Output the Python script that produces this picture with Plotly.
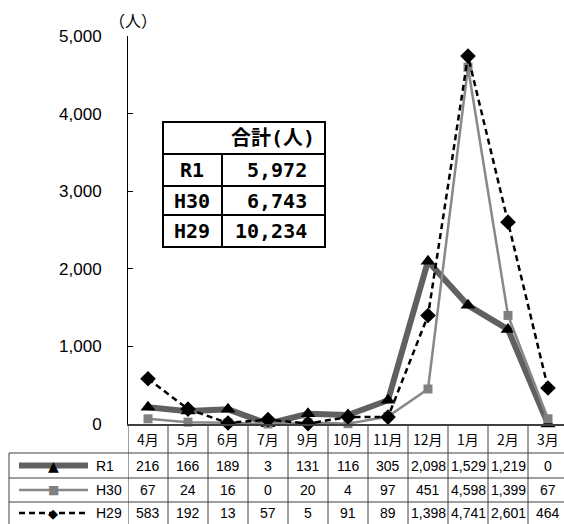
import plotly.graph_objects as go

# 月別データ (8月は無し)
months = ['4月', '5月', '6月', '7月', '9月', '10月', '11月', '12月', '1月', '2月', '3月']
r1 = [216, 166, 189, 3, 131, 116, 305, 2098, 1529, 1219, 0]
h30 = [67, 24, 16, 0, 20, 4, 97, 451, 4598, 1399, 67]
h29 = [583, 192, 13, 57, 5, 91, 89, 1398, 4741, 2601, 464]

series_names = ['R1', 'H30', 'H29']
totals = [5972, 6743, 10234]
y_ticks = [0, 1000, 2000, 3000, 4000, 5000]

# ページとプロット領域 (ピクセル)
W, H = 564, 524
L, T, BOT = 128, 36, 424
PW, PH = W - L, BOT - T
COL = 40


def px(xp):
    return (xp - L) / PW


def py(yp):
    return (BOT - yp) / PH


styles = {
    'R1': dict(line=dict(color='#606060', width=6),
               marker=dict(symbol='triangle-up', size=13, color='#000000'),
               glyph='▲', gcolor='#000000', gsize=14),
    'H30': dict(line=dict(color='#888888', width=2.5),
                marker=dict(symbol='square', size=9, color='#808080'),
                glyph='■', gcolor='#808080', gsize=12),
    'H29': dict(line=dict(color='#000000', width=2.5, dash='6px,4px'),
                marker=dict(symbol='diamond', size=12, color='#000000'),
                glyph='◆', gcolor='#000000', gsize=13),
}

fig = go.Figure()

for name, vals in zip(series_names, [r1, h30, h29]):
    st = styles[name]
    fig.add_trace(go.Scatter(
        x=list(range(len(months))), y=vals, name=name,
        mode='lines+markers',
        line=st['line'], marker=st['marker'],
        cliponaxis=False,
        hoverinfo='skip'
    ))

shapes = []
annotations = []
grid = dict(color='#404040', width=1)


def label(x, y, text, font, xref='paper', xanchor='center'):
    annotations.append(dict(x=x, y=y, xref=xref, yref='paper', text=text,
                            showarrow=False, xanchor=xanchor, yanchor='middle',
                            font=font))


# 下のデータ表
row_lines = [453, 478, 502]
row_centers = [465.5, 490, 513]
for yl in row_lines:
    shapes.append(dict(type='line', xref='paper', yref='paper',
                       x0=px(9), x1=1, y0=py(yl), y1=py(yl), line=grid))
shapes.append(dict(type='line', xref='paper', yref='paper',
                   x0=px(9), x1=px(9), y0=py(453), y1=py(H), line=grid))
for i in range(len(months)):
    shapes.append(dict(type='line', xref='x', yref='paper',
                       x0=i - 0.5, x1=i - 0.5, y0=py(BOT), y1=py(H),
                       line=grid))

cell_font = dict(size=14, color='#000000', family='Liberation Sans')
for i, m in enumerate(months):
    label(i, py(438.5), m,
          dict(size=14, color='#000000', family='Noto Sans CJK JP'), xref='x')

for name, vals, yc in zip(series_names, [r1, h30, h29], row_centers):
    st = styles[name]
    shapes.append(dict(type='line', xref='paper', yref='paper',
                       x0=px(19), x1=px(88), y0=py(yc), y1=py(yc),
                       line=st['line']))
    label(px(53), py(yc), st['glyph'],
          dict(size=st['gsize'], color=st['gcolor'], family='DejaVu Sans'))
    label(px(94), py(yc), name, cell_font, xanchor='left')
    for i, v in enumerate(vals):
        label(i, py(yc), f'{v:,}', cell_font, xref='x')

# 合計表
tbl_font = dict(size=20, color='#000000', family='DejaVu Sans Mono, Noto Sans CJK JP')
shapes.append(dict(type='rect', xref='paper', yref='paper',
                   x0=px(163), x1=px(325), y0=py(122), y1=py(247),
                   line=dict(color='#000000', width=2), fillcolor='#ffffff',
                   layer='above'))
for yl in [154, 186, 215]:
    shapes.append(dict(type='line', xref='paper', yref='paper',
                       x0=px(163), x1=px(325), y0=py(yl), y1=py(yl),
                       line=dict(color='#000000', width=2), layer='above'))
shapes.append(dict(type='line', xref='paper', yref='paper',
                   x0=px(222), x1=px(222), y0=py(154), y1=py(247),
                   line=dict(color='#000000', width=2), layer='above'))
label(px(317), py(138), '<b>合計(人)</b>', tbl_font, xanchor='right')
for name, tot, yc in zip(series_names, totals, [170, 200.5, 231]):
    label(px(192), py(yc), f'<b>{name}</b>', tbl_font)
    label(px(309), py(yc), f'<b>{tot:,}</b>', tbl_font, xanchor='right')

# 単位
label(px(133), py(20), '（人）',
      dict(size=16, color='#000000', family='Noto Sans CJK JP'))

fig.update_layout(
    width=W, height=H,
    margin=dict(l=L, r=W - L - PW, t=T, b=H - BOT, pad=0),
    paper_bgcolor='#ffffff',
    plot_bgcolor='#ffffff',
    showlegend=False,
    shapes=shapes,
    annotations=annotations,
    xaxis=dict(
        range=[-0.5, -0.5 + PW / COL],
        showgrid=False, zeroline=False,
        showticklabels=False, ticks='',
        showline=True, linecolor='#404040', linewidth=2,
        fixedrange=True
    ),
    yaxis=dict(
        range=[0, 5000],
        tickvals=y_ticks, tickformat=',',
        ticks='inside', ticklen=5, tickcolor='#000000',
        showgrid=False, zeroline=False,
        showline=True, linecolor='#000000', linewidth=1,
        tickfont=dict(size=17, color='#000000', family='Liberation Sans'),
        ticklabelstandoff=22,
        fixedrange=True
    ),
    font=dict(family='Liberation Sans', color='#000000')
)

fig.write_html('out.html', config={'displayModeBar': False},
               post_script="document.body.style.margin='0';")
